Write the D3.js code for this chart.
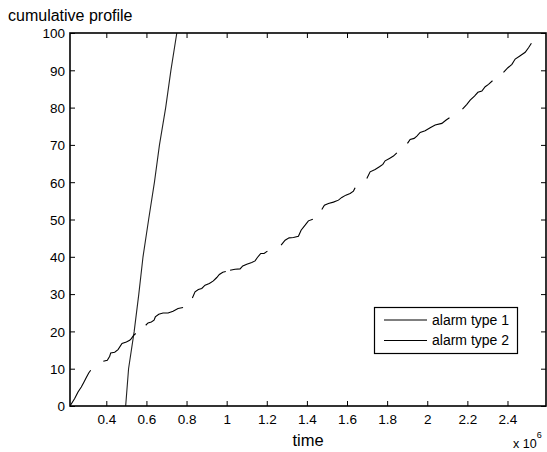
<!DOCTYPE html>
<html><head><meta charset="utf-8">
<script src="https://cdn.jsdelivr.net/npm/d3@7"></script>
<style>body{margin:0;background:#fff}svg{display:block}</style>
</head><body>
<svg id="c" width="547" height="452"></svg>
<script>
// ---- data (time in units of 1e6) ----
const xTicks = [0.4, 0.6, 0.8, 1, 1.2, 1.4, 1.6, 1.8, 2, 2.2, 2.4];
const yTicks = [0, 10, 20, 30, 40, 50, 60, 70, 80, 90, 100];
const seriesNames = ["alarm type 1", "alarm type 2"];

// alarm type 1
const type1X = [0.4965, 0.511, 0.539, 0.562, 0.583, 0.611, 0.640, 0.665, 0.696, 0.722, 0.7515];
const type1Y = [0, 10, 20, 30, 40, 50, 60, 70, 80, 90, 100];

// alarm type 2 (null = gap)
const type2X = [
  0.219, 0.2424, 0.2589, 0.2754, 0.2888, 0.3003, 0.3123, 0.3222, null,
  0.3851, 0.4050, 0.4170, 0.4220, 0.4419, 0.4584, 0.4783, 0.4998, 0.5167, 0.5247, 0.5367, 0.5466, null,
  0.5965, 0.6080, 0.6245, 0.6380, 0.6444, 0.6614, 0.6828, 0.7078, 0.7327, 0.7576, 0.7826, null,
  0.8290, 0.8424, 0.8589, 0.8759, 0.8923, 0.9138, 0.9337, 0.9507, 0.9636, 0.9806, 0.9956, null,
  1.0170, 1.0419, 1.0669, 1.0803, 1.1003, 1.1252, 1.1417, 1.1532, 1.1701, 1.1866, 1.2031, null,
  1.2714, 1.2914, 1.3113, 1.3327, 1.3577, 1.3711, 1.3911, 1.4075, 1.4295, null,
  1.4744, 1.4873, 1.5073, 1.5322, 1.5572, 1.5741, 1.5941, 1.6155, 1.6320, 1.6404, null,
  1.6988, 1.7152, 1.7401, 1.7616, 1.7786, 1.7900, 1.8115, 1.8314, 1.8484, null,
  1.9013, 1.9147, 1.9347, 1.9482, 1.9646, 1.9895, 2.0145, 2.0394, 2.0728, 2.0943, 2.1108, null,
  2.1756, 2.1975, 2.2140, 2.2354, 2.2524, 2.2723, 2.2888, 2.3053, 2.3252, null,
  2.3801, 2.4020, 2.4220, 2.4384, 2.4634, 2.4883, 2.5048, 2.5192
];
const type2Y = [
  0, 1.99, 3.76, 5.10, 6.44, 7.62, 8.85, 9.58, null,
  11.99, 12.26, 13.34, 14.22, 14.41, 15.13, 16.74, 17.17, 17.63, 18.08, 18.97, 19.43, null,
  21.65, 22.27, 22.54, 22.99, 23.88, 24.60, 24.95, 24.95, 25.41, 26.13, 26.40, null,
  28.98, 30.59, 31.23, 31.50, 32.39, 32.84, 33.54, 34.45, 35.26, 35.87, 36.06, null,
  36.41, 36.68, 36.76, 37.56, 38.02, 38.48, 38.90, 39.82, 40.89, 40.89, 41.51, null,
  43.12, 44.46, 45.08, 45.18, 45.53, 47.14, 48.48, 49.64, 50.09, null,
  52.70, 53.85, 54.31, 54.66, 55.19, 55.92, 56.53, 56.99, 57.61, 58.49, null,
  61.01, 62.79, 63.43, 64.13, 64.77, 65.74, 66.38, 67.00, 67.88, null,
  70.41, 71.48, 71.75, 72.36, 73.36, 73.79, 74.59, 75.32, 75.77, 76.66, 77.27, null,
  79.61, 80.87, 82.02, 83.10, 84.09, 84.44, 85.59, 86.24, 87.20, null,
  89.46, 90.69, 91.60, 93.02, 93.91, 94.82, 96.06, 97.24
];
const xDomain = [0.219, 2.592];
const yDomain = [0, 100];

// ---- drawing ----
const FONT = "'Liberation Sans', Arial, Helvetica, sans-serif";
const svg = d3.select("#c");
const L = 70, R = 546, T = 33, B = 406;
const x = d3.scaleLinear().domain(xDomain).range([L, R]);
const y = d3.scaleLinear().domain(yDomain).range([B, T]);

const clip = svg.append("clipPath").attr("id", "clp")
  .append("rect").attr("x", L).attr("y", T).attr("width", R - L).attr("height", B - T);

const zip = (xs, ys) => xs.map((v, i) => (v == null || ys[i] == null) ? null : [v, ys[i]]);
const line = d3.line().defined(d => d != null).x(d => x(d[0])).y(d => y(d[1]));

const plot = svg.append("g").attr("clip-path", "url(#clp)");
plot.append("path").datum(zip(type1X, type1Y))
  .attr("d", line).attr("fill", "none").attr("stroke", "#222").attr("stroke-width", 1.1);
plot.append("path").datum(zip(type2X, type2Y))
  .attr("d", line).attr("fill", "none").attr("stroke", "#000").attr("stroke-width", 1.1);

// axes
const tl = 5;
const gB = svg.append("g").attr("transform", `translate(0,${B})`)
  .call(d3.axisBottom(x).tickValues(xTicks).tickFormat(d3.format("")).tickSizeInner(-tl).tickSizeOuter(0).tickPadding(8));
const gT = svg.append("g").attr("transform", `translate(0,${T})`)
  .call(d3.axisTop(x).tickValues(xTicks).tickFormat("").tickSizeInner(-tl).tickSizeOuter(0));
const gL = svg.append("g").attr("transform", `translate(${L},0)`)
  .call(d3.axisLeft(y).tickValues(yTicks).tickFormat(d3.format("")).tickSizeInner(-tl).tickSizeOuter(0).tickPadding(5));
const gR = svg.append("g").attr("transform", `translate(${R},0)`)
  .call(d3.axisRight(y).tickValues(yTicks).tickFormat("").tickSizeInner(-tl).tickSizeOuter(0));
[gB, gT, gL, gR].forEach(g => {
  g.select(".domain").remove();
  g.selectAll("line").attr("stroke", "#000");
  g.selectAll("text").attr("font-family", FONT).attr("font-size", 13.5).attr("fill", "#000");
});
gL.selectAll("text").attr("dy", "0.36em");
gB.selectAll("text").attr("dy", "0.72em");

svg.append("rect").attr("x", L).attr("y", T).attr("width", R - L).attr("height", B - T)
  .attr("fill", "none").attr("stroke", "#000").attr("stroke-width", 1.6);

// labels
svg.append("text").attr("x", 8).attr("y", 21).text("cumulative profile")
  .attr("font-family", FONT).attr("font-size", 16).attr("fill", "#000");
svg.append("text").attr("x", (L + R) / 2).attr("y", 446).attr("text-anchor", "middle").text("time")
  .attr("font-family", FONT).attr("font-size", 16.5).attr("fill", "#000");
const ex = svg.append("text").attr("x", 513).attr("y", 448)
  .attr("font-family", FONT).attr("font-size", 12.5).attr("fill", "#000");
ex.append("tspan").text("x 10");
ex.append("tspan").attr("dy", -10).attr("font-size", 9).text("6");

// legend
const lg = svg.append("g");
lg.append("rect").attr("x", 374.5).attr("y", 307.5).attr("width", 143).attr("height", 46)
  .attr("fill", "#fff").attr("stroke", "#000").attr("stroke-width", 1.2);
const legY = [320, 340.5];
const legCol = ["#000", "#000"];
seriesNames.forEach((n, i) => {
  lg.append("line").attr("x1", 384).attr("x2", 427).attr("y1", legY[i]).attr("y2", legY[i])
    .attr("stroke", legCol[i]).attr("stroke-width", 1);
  lg.append("text").attr("x", 432).attr("y", legY[i]).attr("dy", "0.35em").text(n)
    .attr("font-family", FONT).attr("font-size", 14).attr("fill", "#000");
});
</script>
</body></html>
